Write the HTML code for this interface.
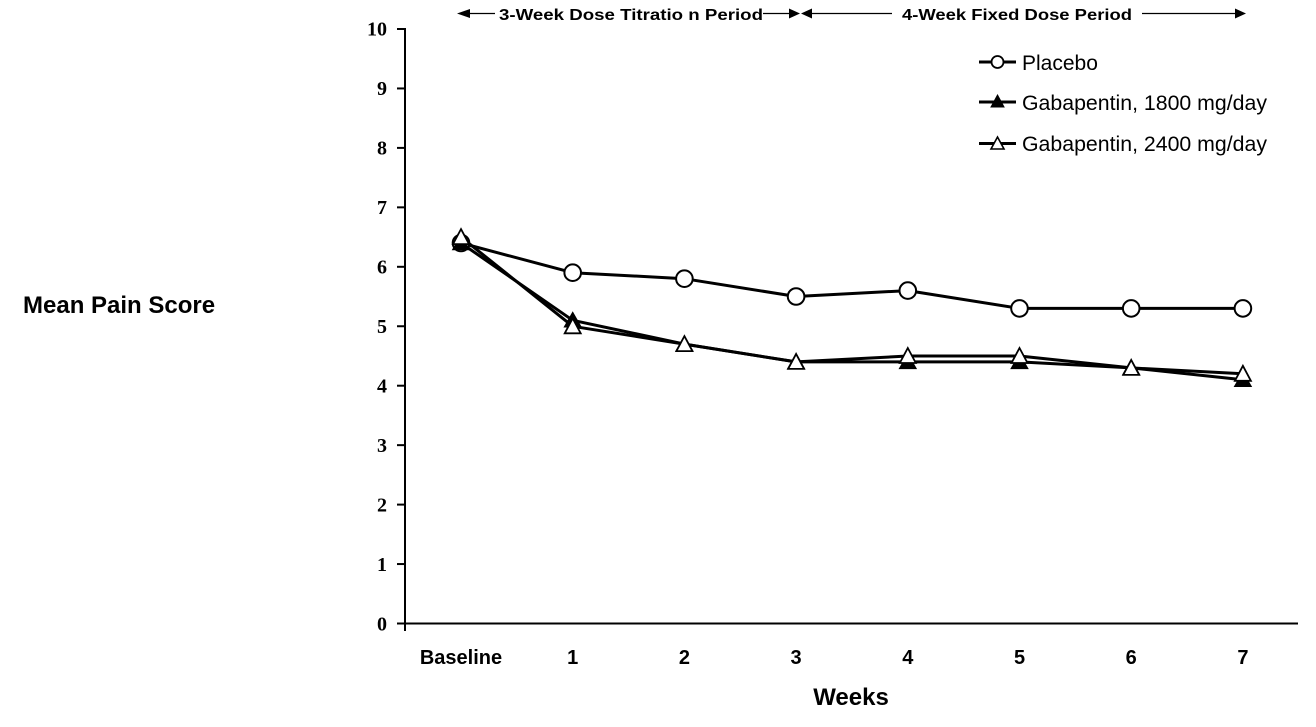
<!DOCTYPE html>
<html>
<head>
<meta charset="utf-8">
<style>
  html, body { margin:0; padding:0; background:#fff; }
  svg { display:block; }
</style>
</head>
<body>
<svg width="1316" height="727" viewBox="0 0 1316 727" xmlns="http://www.w3.org/2000/svg">
  <rect width="1316" height="727" fill="#fff"/>

  <!-- Header arrows -->
  <g stroke="#000" stroke-width="1.3" fill="#000">
    <polygon points="457,13.5 470,9 470,18" stroke="none"/>
    <line x1="468" y1="13.5" x2="495" y2="13.5"/>
    <line x1="763" y1="13.5" x2="790" y2="13.5"/>
    <polygon points="789,8.5 800,13.5 789,18.5" stroke="none"/>
    <polygon points="812,8.5 801,13.5 812,18.5" stroke="none"/>
    <line x1="811" y1="13.5" x2="892" y2="13.5"/>
    <line x1="1142" y1="13.5" x2="1236" y2="13.5"/>
    <polygon points="1235,8.5 1246,13.5 1235,18.5" stroke="none"/>
  </g>
  <g font-family="Liberation Sans, Arial, sans-serif" font-weight="bold" font-size="16" fill="#000">
    <text x="499" y="20" textLength="264" lengthAdjust="spacingAndGlyphs">3-Week Dose Titratio  n Period</text>
    <text x="902" y="20" textLength="230" lengthAdjust="spacingAndGlyphs">4-Week Fixed Dose Period</text>
  </g>

  <!-- Axes -->
  <g stroke="#000" stroke-width="2" fill="none">
    <line x1="405" y1="28" x2="405" y2="631"/>
    <line x1="404" y1="623.5" x2="1298" y2="623.5"/>
    <line x1="397" y1="623.5" x2="405" y2="623.5"/>
    <line x1="397" y1="564.05" x2="405" y2="564.05"/>
    <line x1="397" y1="504.6" x2="405" y2="504.6"/>
    <line x1="397" y1="445.15" x2="405" y2="445.15"/>
    <line x1="397" y1="385.7" x2="405" y2="385.7"/>
    <line x1="397" y1="326.25" x2="405" y2="326.25"/>
    <line x1="397" y1="266.8" x2="405" y2="266.8"/>
    <line x1="397" y1="207.35" x2="405" y2="207.35"/>
    <line x1="397" y1="147.9" x2="405" y2="147.9"/>
    <line x1="397" y1="88.45" x2="405" y2="88.45"/>
    <line x1="397" y1="29" x2="405" y2="29"/>
  </g>

  <!-- Y tick labels -->
  <g font-family="Liberation Serif, Times New Roman, serif" font-weight="bold" font-size="20" fill="#000" text-anchor="end">
    <text x="387" y="630.5">0</text>
    <text x="387" y="571">1</text>
    <text x="387" y="511.5">2</text>
    <text x="387" y="452">3</text>
    <text x="387" y="392.5">4</text>
    <text x="387" y="333">5</text>
    <text x="387" y="273.5">6</text>
    <text x="387" y="214">7</text>
    <text x="387" y="154.5">8</text>
    <text x="387" y="95">9</text>
    <text x="387" y="35.5">10</text>
  </g>

  <!-- X tick labels -->
  <g font-family="Liberation Sans, Arial, sans-serif" font-weight="bold" font-size="20" fill="#000" text-anchor="middle">
    <text x="461" y="664">Baseline</text>
    <text x="572.7" y="664">1</text>
    <text x="684.4" y="664">2</text>
    <text x="796.1" y="664">3</text>
    <text x="907.8" y="664">4</text>
    <text x="1019.5" y="664">5</text>
    <text x="1131.2" y="664">6</text>
    <text x="1242.9" y="664">7</text>
  </g>

  <!-- Axis titles -->
  <text x="851" y="705" font-family="Liberation Sans, Arial, sans-serif" font-weight="bold" font-size="24" text-anchor="middle" fill="#000">Weeks</text>
  <text x="23" y="313" font-family="Liberation Sans, Arial, sans-serif" font-weight="bold" font-size="24" fill="#000">Mean Pain Score</text>

  <!-- Placebo series -->
  <polyline fill="none" stroke="#000" stroke-width="3" stroke-linejoin="round"
    points="461,243 572.7,272.7 684.4,278.7 796.1,296.5 907.8,290.6 1019.5,308.4 1131.2,308.4 1242.9,308.4"/>
  <g fill="#fff" stroke="#000" stroke-width="2">
    <circle cx="461" cy="243" r="8.3"/>
    <circle cx="572.7" cy="272.7" r="8.3"/>
    <circle cx="684.4" cy="278.7" r="8.3"/>
    <circle cx="796.1" cy="296.5" r="8.3"/>
    <circle cx="907.8" cy="290.6" r="8.3"/>
    <circle cx="1019.5" cy="308.4" r="8.3"/>
    <circle cx="1131.2" cy="308.4" r="8.3"/>
    <circle cx="1242.9" cy="308.4" r="8.3"/>
  </g>

  <!-- Gabapentin 1800 series (filled triangles) -->
  <polyline fill="none" stroke="#000" stroke-width="3" stroke-linejoin="round"
    points="461,243 572.7,320.3 684.4,344.1 796.1,361.9 907.8,361.9 1019.5,361.9 1131.2,367.9 1242.9,379.8"/>
  <g fill="#000" stroke="#000" stroke-width="1.5">
    <polygon points="461,235.5 469,249.5 453,249.5"/>
    <polygon points="572.7,312.8 580.7,326.8 564.7,326.8"/>
    <polygon points="684.4,336.6 692.4,350.6 676.4,350.6"/>
    <polygon points="796.1,354.4 804.1,368.4 788.1,368.4"/>
    <polygon points="907.8,354.4 915.8,368.4 899.8,368.4"/>
    <polygon points="1019.5,354.4 1027.5,368.4 1011.5,368.4"/>
    <polygon points="1131.2,360.4 1139.2,374.4 1123.2,374.4"/>
    <polygon points="1242.9,372.3 1250.9,386.3 1234.9,386.3"/>
  </g>

  <!-- Gabapentin 2400 series (open triangles) -->
  <polyline fill="none" stroke="#000" stroke-width="3" stroke-linejoin="round"
    points="461,237.1 572.7,326.3 684.4,344.1 796.1,361.9 907.8,356 1019.5,356 1131.2,367.9 1242.9,373.8"/>
  <g fill="#fff" stroke="#000" stroke-width="1.8">
    <polygon points="461,229.1 469,244.1 453,244.1"/>
    <polygon points="572.7,318.3 580.7,333.3 564.7,333.3"/>
    <polygon points="684.4,336.1 692.4,351.1 676.4,351.1"/>
    <polygon points="796.1,353.9 804.1,368.9 788.1,368.9"/>
    <polygon points="907.8,348 915.8,363 899.8,363"/>
    <polygon points="1019.5,348 1027.5,363 1011.5,363"/>
    <polygon points="1131.2,359.9 1139.2,374.9 1123.2,374.9"/>
    <polygon points="1242.9,365.8 1250.9,380.8 1234.9,380.8"/>
  </g>

  <!-- Legend -->
  <g stroke="#000" stroke-width="3">
    <line x1="979" y1="62" x2="1016" y2="62"/>
    <line x1="979" y1="102" x2="1016" y2="102"/>
    <line x1="979" y1="143.5" x2="1016" y2="143.5"/>
  </g>
  <circle cx="997.5" cy="62" r="6" fill="#fff" stroke="#000" stroke-width="1.8"/>
  <polygon points="997.5,95 1004,107 991,107" fill="#000" stroke="#000" stroke-width="1"/>
  <polygon points="997.5,137 1004,149 991,149" fill="#fff" stroke="#000" stroke-width="1.6"/>
  <g font-family="Liberation Sans, Arial, sans-serif" font-size="21" fill="#000">
    <text x="1022" y="70">Placebo</text>
    <text x="1022" y="110" textLength="245" lengthAdjust="spacingAndGlyphs">Gabapentin, 1800 mg/day</text>
    <text x="1022" y="151" textLength="245" lengthAdjust="spacingAndGlyphs">Gabapentin, 2400 mg/day</text>
  </g>
</svg>
</body>
</html>
